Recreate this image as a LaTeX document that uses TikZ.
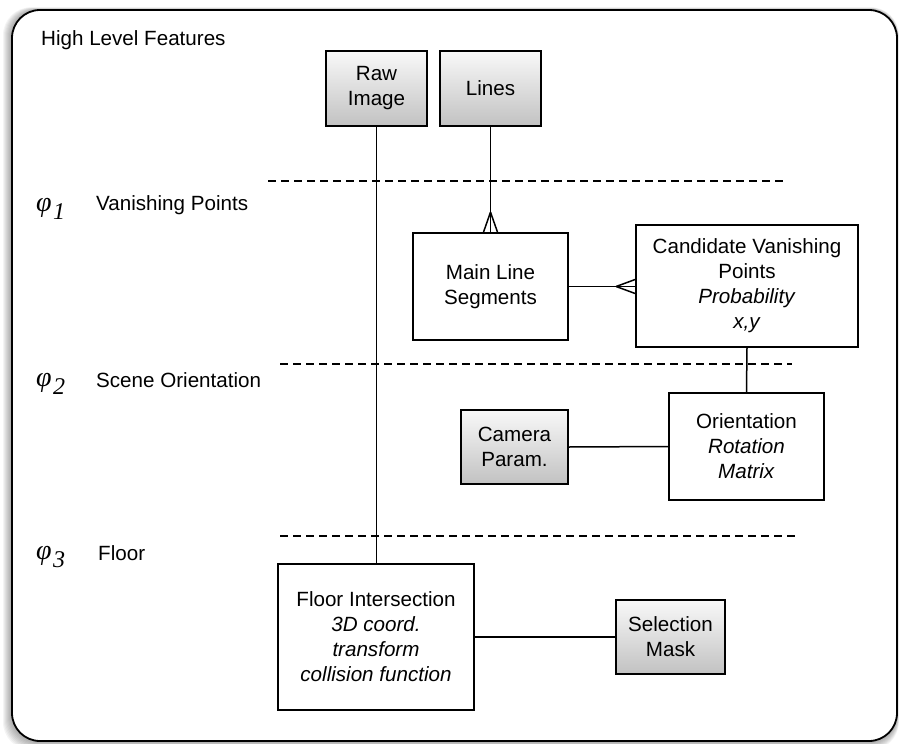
\documentclass[tikz,border=0pt]{standalone}
\usepackage{fontspec}
\setmainfont{Liberation Sans}
\newfontfamily\phifont{Liberation Serif}
\usetikzlibrary{calc}
\newcommand\mkphi[1]{{\phifont\itshape\fontsize{28}{28}\selectfont φ}\kern1.5pt\raisebox{-8pt}{\phifont\itshape\fontsize{24}{24}\selectfont #1}}
\begin{document}
\begin{tikzpicture}[x=1pt,y=-1pt,
  box/.style={draw,line width=1.7pt,align=center,inner sep=0pt,font=\fontsize{20.6}{25}\selectfont},
  gbox/.style={box,top color=gray!5,bottom color=gray!48},
  conn/.style={line width=1.5pt},
  sep/.style={line width=1.4pt,dash pattern=on 8pt off 5pt},
  lbl/.style={anchor=west,inner sep=0pt,font=\fontsize{20.6}{25}\selectfont}]
\useasboundingbox (0,0) rectangle (900,744);
% shadow
\foreach \k in {1,...,9}{
  \fill[black,opacity=0.045,rounded corners=28pt] (12-\k*1.0,10-\k*0.3) rectangle (897+\k*0.2,741+\k*1.0);
}
\draw[line width=1.8pt,fill=white,rounded corners=28pt] (12,10) rectangle (897,741);

% separators
\draw[sep] (268,181) -- (786,181);
\draw[sep] (280,364) -- (792,364);
\draw[sep] (280,536) -- (795,536);

% labels
\node[lbl] (hlf) at (41,40) {High Level Features};
\node[lbl] (vp) at (96,205) {Vanishing Points};
\node[lbl] (so) at (96,380) {Scene Orientation};
\node[lbl] (fl) at (98,553) {Floor};
\node[anchor=west,inner sep=0pt] (p1) at (36,209) {\mkphi{1}};
\node[anchor=west,inner sep=0pt] (p2) at (36,384) {\mkphi{2}};
\node[anchor=west,inner sep=0pt] (p3) at (36,557) {\mkphi{3}};

% boxes
\node[gbox,minimum width=101pt,minimum height=75pt] (raw) at (376.5,88.5) {Raw\\Image};
\node[gbox,minimum width=101pt,minimum height=75pt] (lines) at (490.5,88.5) {Lines};
\node[box,minimum width=155pt,minimum height=107pt] (mls) at (490.5,286.5) {Main Line\\Segments};
\node[box,minimum width=222pt,minimum height=122pt] (cvp) at (747,286) {Candidate Vanishing\\Points\\\textit{Probability}\\\textit{x,y}};
\node[box,minimum width=155pt,minimum height=107pt] (ori) at (746.5,446.5) {Orientation\\\textit{Rotation}\\\textit{Matrix}};
\node[gbox,minimum width=107pt,minimum height=74pt] (cam) at (514.5,447) {Camera\\Param.};
\node[box,minimum width=196pt,minimum height=146pt] (floor) at (376,637) {Floor Intersection\\\textit{3D coord.}\\\textit{transform}\\\textit{collision function}};
\node[gbox,minimum width=109pt,minimum height=74pt] (sel) at (670.5,637) {Selection\\Mask};

% connectors
\draw[conn] (raw.south) -- (raw.south |- floor.north);
\draw[conn] (lines.south) -- (mls.north);
\draw[conn] ($(mls.north)+(0,-20)$) -- ($(mls.north)+(-7,0)$);
\draw[conn] ($(mls.north)+(0,-20)$) -- ($(mls.north)+(7,0)$);
\coordinate (cin) at (mls.east -| cvp.west);
\draw[conn] (mls.east) -- (cin);
\draw[conn] ($(cin)+(-19,0)$) -- ($(cin)+(0,-7)$);
\draw[conn] ($(cin)+(-19,0)$) -- ($(cin)+(0,7)$);
\draw[conn] (cvp.south) -- (ori.north);
\draw[conn] (cam.east) -- (ori.west);
\draw[conn] (floor.east) -- (sel.west);
\end{tikzpicture}
\end{document}
